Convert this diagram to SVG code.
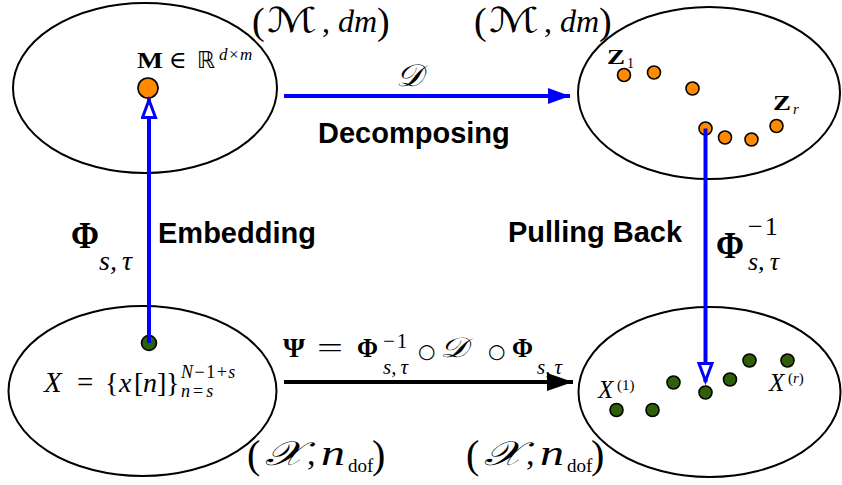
<svg xmlns="http://www.w3.org/2000/svg" width="842" height="485" viewBox="0 0 842 485">
<style>
.space{fill:#ffffff;stroke:#000;stroke-width:2}
.orange{fill:#FF8A00;stroke:#000;stroke-width:1.6}
.green{fill:#2F5F08;stroke:#000;stroke-width:1.6}
.lbl{font-family:"Liberation Sans",Arial,sans-serif;font-weight:bold;font-size:29px;fill:#000}
.m{font-family:"Liberation Serif","DejaVu Serif",serif;fill:#000}
.it{font-style:italic}
.bf{font-weight:bold}
.scr{font-family:"DejaVu Sans","DejaVu Serif",serif;font-style:italic}
.op{font-family:"DejaVu Sans",sans-serif}
.blue{stroke:#0000FF;stroke-width:4;fill:none}
.black{stroke:#000;stroke-width:4;fill:none}
</style>
<defs>
<marker id="blueHead" markerUnits="userSpaceOnUse" markerWidth="24" markerHeight="18" refX="22" refY="8" orient="auto">
<path d="M0,0 L22,8 L0,16 Z" fill="#0000FF"/>
</marker>
<marker id="blackHead" markerUnits="userSpaceOnUse" markerWidth="28" markerHeight="20" refX="26" refY="9" orient="auto">
<path d="M0,0 L26,9 L0,18 Z" fill="#000"/>
</marker>
<marker id="openHead" markerUnits="userSpaceOnUse" markerWidth="24" markerHeight="20" refX="20" refY="8" orient="auto">
<path d="M1.5,1.5 L19,8 L1.5,14.5 Z" fill="#fff" stroke="#0000FF" stroke-width="3"/>
</marker>
</defs>

<g id="node-M">
<ellipse class="space" cx="145" cy="88" rx="132" ry="85"/>
<text class="m" x="252" y="34" font-size="38">(</text>
<text class="m scr" x="267" y="32" font-size="34" textLength="50" lengthAdjust="spacingAndGlyphs">ℳ</text>
<text class="m" x="322" y="32" font-size="32">,</text>
<text class="m it" x="338" y="32" font-size="32">dm</text>
<text class="m" x="377" y="34" font-size="38">)</text>
<text class="m bf" x="137" y="68" font-size="24" textLength="26" lengthAdjust="spacingAndGlyphs">M</text>
<text class="m" x="169" y="68" font-size="24">∈</text>
<text class="op" x="197" y="68" font-size="23">ℝ</text>
<text class="m it" x="219" y="60" font-size="17" letter-spacing="1.5">d<tspan font-style="normal">×</tspan>m</text>
<circle class="orange" cx="148" cy="88" r="10"/>
</g>

<g id="node-Z">
<ellipse class="space" cx="709" cy="93" rx="131" ry="86"/>
<text class="m" x="474" y="34" font-size="38">(</text>
<text class="m scr" x="489" y="32" font-size="34" textLength="50" lengthAdjust="spacingAndGlyphs">ℳ</text>
<text class="m" x="544" y="32" font-size="32">,</text>
<text class="m it" x="560" y="32" font-size="32">dm</text>
<text class="m" x="599" y="34" font-size="38">)</text>
<text class="m bf" x="607" y="64" font-size="22" textLength="18" lengthAdjust="spacingAndGlyphs">Z</text>
<text class="m" x="627" y="68" font-size="14">1</text>
<text class="m bf" x="773" y="110" font-size="22" textLength="18" lengthAdjust="spacingAndGlyphs">Z</text>
<text class="m it" x="793" y="114" font-size="15">r</text>
<circle class="orange" cx="624" cy="75" r="6.5"/>
<circle class="orange" cx="654" cy="72.5" r="6.5"/>
<circle class="orange" cx="692.5" cy="88.5" r="6.5"/>
<circle class="orange" cx="705.5" cy="128.5" r="6.5"/>
<circle class="orange" cx="725" cy="137.5" r="6.5"/>
<circle class="orange" cx="751.5" cy="139.5" r="6.5"/>
<circle class="orange" cx="776.5" cy="126" r="6.5"/>
</g>

<g id="node-X">
<ellipse class="space" cx="142.5" cy="391" rx="134" ry="85"/>
<text class="m" x="247" y="468" font-size="40">(</text>
<text class="m scr" x="265" y="465" font-size="34" textLength="38" lengthAdjust="spacingAndGlyphs">𝒳</text>
<text class="m" x="307" y="465" font-size="34">,</text>
<text class="m it" x="321" y="465" font-size="36" textLength="24" lengthAdjust="spacingAndGlyphs">n</text>
<text class="m" x="348" y="472" font-size="19">dof</text>
<text class="m" x="372" y="468" font-size="40">)</text>
<text class="m it" x="44" y="392" font-size="29">X</text>
<text class="m" x="77" y="392" font-size="29">=</text>
<text class="m" x="105" y="392" font-size="28">{</text>
<text class="m it" x="119" y="392" font-size="28">x</text>
<text class="m" x="134" y="392" font-size="28">[</text>
<text class="m it" x="143" y="392" font-size="28">n</text>
<text class="m" x="157" y="392" font-size="28">]</text>
<text class="m" x="166" y="392" font-size="28">}</text>
<text class="m it" x="181" y="378" font-size="18" letter-spacing="1.5">N<tspan font-style="normal">−1+</tspan>s</text>
<text class="m it" x="181" y="397" font-size="18" letter-spacing="3">n<tspan font-style="normal">=</tspan>s</text>
<circle class="green" cx="149" cy="343" r="7.5"/>
</g>

<g id="node-Xr">
<ellipse class="space" cx="709.5" cy="392" rx="131" ry="85"/>
<text class="m" x="466" y="468" font-size="40">(</text>
<text class="m scr" x="484" y="465" font-size="34" textLength="38" lengthAdjust="spacingAndGlyphs">𝒳</text>
<text class="m" x="526" y="465" font-size="34">,</text>
<text class="m it" x="540" y="465" font-size="36" textLength="24" lengthAdjust="spacingAndGlyphs">n</text>
<text class="m" x="567" y="472" font-size="19">dof</text>
<text class="m" x="591" y="468" font-size="40">)</text>
<text class="m it" x="598" y="398" font-size="25">X</text>
<text class="m" x="617" y="390" font-size="15">(1)</text>
<text class="m it" x="769" y="391" font-size="25">X</text>
<text class="m" x="788" y="383" font-size="15">(<tspan class="it">r</tspan>)</text>
<circle class="green" cx="616.5" cy="410" r="6.5"/>
<circle class="green" cx="652.5" cy="410" r="6.5"/>
<circle class="green" cx="673.5" cy="382.5" r="6.5"/>
<circle class="green" cx="705.5" cy="392.5" r="6.5"/>
<circle class="green" cx="730" cy="379.5" r="6.5"/>
<circle class="green" cx="749.5" cy="360.5" r="6.5"/>
<circle class="green" cx="787.5" cy="360.5" r="6.5"/>
</g>

<g id="connectors">
<line class="blue" x1="149" y1="343" x2="149" y2="99" marker-end="url(#openHead)"/>
<line class="blue" x1="284" y1="96" x2="570" y2="96" marker-end="url(#blueHead)"/>
<line class="blue" x1="705.5" y1="128.5" x2="705.5" y2="382" marker-end="url(#openHead)"/>
<line class="black" x1="284" y1="382" x2="573" y2="382" marker-end="url(#blackHead)"/>
</g>

<g id="labels">
<text class="m scr" x="396" y="86" font-size="31" textLength="27" lengthAdjust="spacingAndGlyphs">𝒟</text>
<text class="lbl" x="318" y="143">Decomposing</text>
<text class="lbl" x="158" y="243">Embedding</text>
<text class="lbl" x="508" y="242">Pulling Back</text>
<text class="m bf" x="71" y="248" font-size="37" textLength="28" lengthAdjust="spacingAndGlyphs">Φ</text>
<text class="m it" x="99" y="270" font-size="28">s,<tspan dx="5">τ</tspan></text>
<text class="m bf" x="716" y="258" font-size="37" textLength="28" lengthAdjust="spacingAndGlyphs">Φ</text>
<text class="m" x="748" y="235" font-size="26" letter-spacing="2">−1</text>
<text class="m it" x="748" y="270" font-size="26">s,<tspan dx="5">τ</tspan></text>
<text class="m bf" x="283" y="357" font-size="27" textLength="22" lengthAdjust="spacingAndGlyphs">Ψ</text>
<text class="m" x="317" y="357" font-size="28" textLength="26" lengthAdjust="spacingAndGlyphs">=</text>
<text class="m bf" x="357" y="357" font-size="27" textLength="21" lengthAdjust="spacingAndGlyphs">Φ</text>
<text class="m" x="383" y="348" font-size="21" letter-spacing="2">−1</text>
<text class="m it" x="383" y="374" font-size="21">s,<tspan dx="4">τ</tspan></text>
<text class="op" x="418" y="358" font-size="20">○</text>
<text class="m scr" x="440" y="357" font-size="28" textLength="27" lengthAdjust="spacingAndGlyphs">𝒟</text>
<text class="op" x="488" y="358" font-size="20">○</text>
<text class="m bf" x="512" y="357" font-size="27" textLength="21" lengthAdjust="spacingAndGlyphs">Φ</text>
<text class="m it" x="537" y="374" font-size="21">s,<tspan dx="4">τ</tspan></text>
</g>
</svg>
